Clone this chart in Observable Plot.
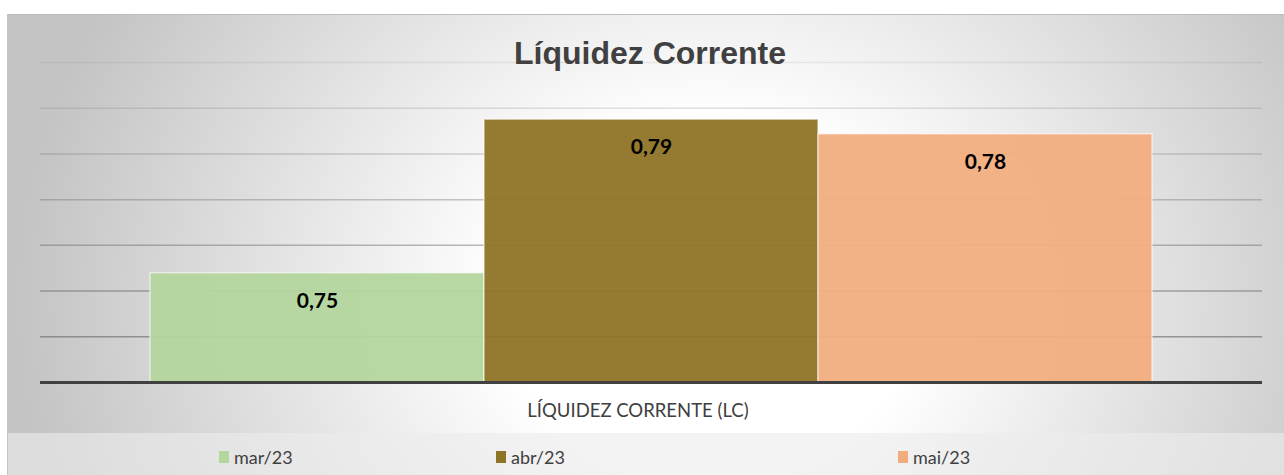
<!DOCTYPE html>
<html><head><meta charset="utf-8">
<script src="https://cdn.jsdelivr.net/npm/d3@7"></script>
<script src="https://cdn.jsdelivr.net/npm/@observablehq/plot@0.6"></script>
<style>
html,body{margin:0;padding:0;background:#fff;width:1284px;height:475px;overflow:hidden;}
#bg{position:absolute;left:7px;top:14px;width:1277px;height:461px;box-sizing:border-box;
 border-top:1.5px solid #bdbdbd;border-left:1.5px solid #c4c4c4;
 background:radial-gradient(ellipse 54% 130% at 55% 62%, #ffffff 0%, #ffffff 30%, #c4c4c4 100%);}
#legendband{position:absolute;left:8px;top:433px;width:1276px;height:42px;background:rgba(236,236,236,0.62);}
#chart{position:absolute;left:0;top:0;}
#title{position:absolute;left:0;width:1300px;top:35px;text-align:center;font-family:"Liberation Sans",Arial,sans-serif;font-weight:bold;font-size:32px;color:#404040;}
#axlabel{position:absolute;left:0;width:1276px;top:399px;text-align:center;font-family:Lato,"Open Sans",sans-serif;font-size:18.5px;color:#404040;}
.leg{position:absolute;top:446px;font-family:Lato,"Open Sans",sans-serif;font-size:18px;color:#404040;display:flex;align-items:center;white-space:nowrap;}
.leg span.sw{display:inline-block;width:10px;height:12px;margin-right:5px;}
</style></head>
<body>
<div id="bg"></div>
<div id="legendband"></div>
<div id="chart"></div>
<div id="title">Líquidez Corrente</div>
<div id="axlabel">LÍQUIDEZ CORRENTE (LC)</div>
<div id="legend"></div>
<script>
const categories = ["mar/23", "abr/23", "mai/23"];
const values = [0.7539, 0.7875, 0.7843];
const colors = ["#b3d69d", "#8f7326", "#f2ad7f"];
const gridTicks = [0.74, 0.75, 0.76, 0.77, 0.78, 0.79, 0.80];
const yMin = 0.73;
const yMax = 0.80;
const legendLefts = [219, 496, 898];

const data = categories.map((c, i) => ({cat: c, value: values[i], base: yMin}));

const chart = Plot.plot({
  width: 1284,
  height: 400,
  marginLeft: 40,
  marginRight: 22,
  marginTop: 62,
  marginBottom: 18,
  style: {background: "transparent", overflow: "visible"},
  x: {domain: categories, paddingInner: 0, paddingOuter: 0.325, axis: null},
  y: {domain: [yMin, yMax], axis: null},
  color: {domain: categories, range: colors},
  marks: [
    Plot.ruleY(gridTicks, {stroke: "#6a6a6a", strokeWidth: 1.5,
      strokeOpacity: d => 0.12 + 0.6 * (yMax - d) / (yMax - yMin)}),
    Plot.barY(data, {x: "cat", y1: "base", y2: "value", fill: "cat", fillOpacity: 0.95, stroke: "#ffffff", strokeOpacity: 0.55, strokeWidth: 1.5, inset: 0}),
    Plot.ruleY([yMin], {stroke: "#404040", strokeWidth: 3}),
    Plot.text(data, {x: "cat", y: "value", text: d => d.value.toFixed(2).replace(".", ","), dy: 28,
      fontSize: 21, fontWeight: "bold", fill: "#000", fontFamily: "Lato, 'Open Sans', sans-serif"})
  ]
});
document.getElementById("chart").appendChild(chart);

const leg = document.getElementById("legend");
categories.forEach((c, i) => {
  const d = document.createElement("div");
  d.className = "leg";
  d.style.left = legendLefts[i] + "px";
  d.innerHTML = `<span class="sw" style="background:${colors[i]}"></span>${c}`;
  leg.appendChild(d);
});
</script>
</body></html>
